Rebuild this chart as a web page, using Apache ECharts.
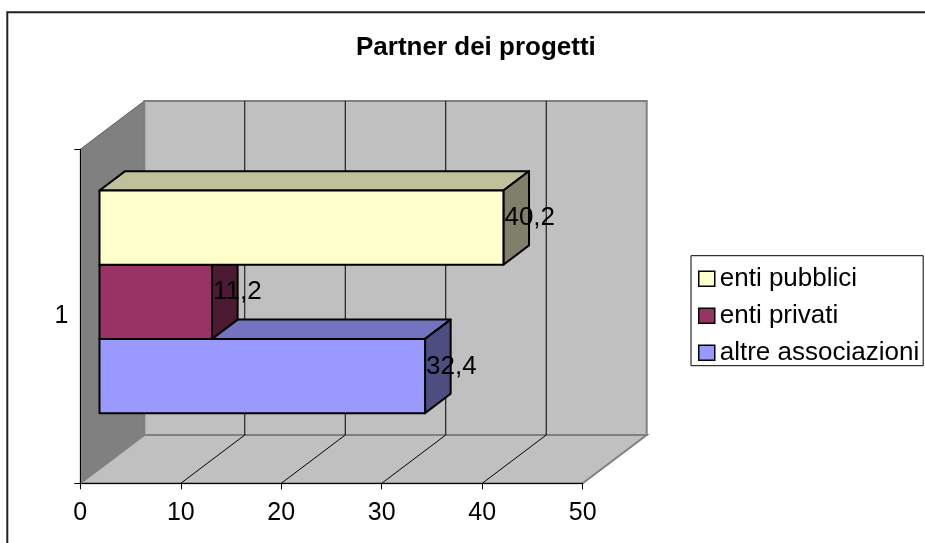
<!DOCTYPE html>
<html>
<head>
<meta charset="utf-8">
<style>
  html, body { margin: 0; padding: 0; background: #fff; }
  #chart { width: 925px; height: 543px; }
</style>
<script src="https://cdn.jsdelivr.net/npm/echarts@6/dist/echarts.min.js"></script>
</head>
<body>
<div id="chart"></div>
<script>
// Data
const categories = ['1'];
const seriesNames = ['enti pubblici', 'enti privati', 'altre associazioni'];
const seriesValues = [40.2, 11.2, 32.4];
const xTicks = [0, 10, 20, 30, 40, 50];

// Styles
const FONT = '"Liberation Sans", Arial, sans-serif';
const frontColors = ['#FFFFCC', '#993366', '#9999FF'];
const topColors   = ['#C0C09A', '#73264D', '#7373C0'];
const sideColors  = ['#80806A', '#4D1A33', '#4D4D80'];
const DEPTH = [64, -48.3];        // projection of the full depth of the box
const BAR_FRONT = 0.3, BAR_BACK = 0.7; // bar slab inside the depth
const GAP = 0.75;                 // gap on each side of the bar group, in bar heights

function fmt(v) { return String(v).replace('.', ','); }

function renderWalls(params, api) {
  const band = api.size([0, 1])[1];
  const c = api.coord([0, 0]);
  const yTop = c[1] - band / 2, yBot = c[1] + band / 2;
  const xs = xTicks.map(v => api.coord([v, 0])[0]);
  const x0 = xs[0], x1 = xs[xs.length - 1];
  const dx = DEPTH[0], dy = DEPTH[1];
  const children = [
    { type: 'polygon', shape: { points: [[x0, yTop], [x0 + dx, yTop + dy], [x0 + dx, yBot + dy], [x0, yBot]] },
      style: { fill: '#808080', stroke: '#606060', lineWidth: 1 } },
    { type: 'polygon', shape: { points: [[x0, yBot], [x0 + dx, yBot + dy], [x1 + dx, yBot + dy], [x1, yBot]] },
      style: { fill: '#C0C0C0', stroke: '#808080', lineWidth: 2 } },
    { type: 'rect', shape: { x: x0 + dx, y: yTop + dy, width: x1 - x0, height: yBot - yTop },
      style: { fill: '#C0C0C0', stroke: '#808080', lineWidth: 2 } }
  ];
  xs.slice(1, -1).forEach(x => {
    children.push({ type: 'line', shape: { x1: x + dx, y1: yTop + dy, x2: x + dx, y2: yBot + dy },
      style: { stroke: '#000', lineWidth: 1 } });
    children.push({ type: 'line', shape: { x1: x, y1: yBot, x2: x + dx, y2: yBot + dy },
      style: { stroke: '#000', lineWidth: 1 } });
  });
  return { type: 'group', children };
}

function makeBarRenderer(slot) {
  return function (params, api) {
    const value = api.value(0);
    const band = api.size([0, 1])[1];
    const p0 = api.coord([0, api.value(1)]);
    const p1 = api.coord([value, api.value(1)]);
    const h = band / (seriesNames.length + 2 * GAP);
    const top = p0[1] - band / 2 + GAP * h + slot * h;
    const fx = DEPTH[0] * BAR_FRONT, fy = DEPTH[1] * BAR_FRONT;
    const bx = DEPTH[0] * BAR_BACK, by = DEPTH[1] * BAR_BACK;
    const xa = p0[0], xb = p1[0];
    const edge = { stroke: '#000', lineWidth: 2, lineJoin: 'round' };
    return {
      type: 'group',
      children: [
        { type: 'polygon', shape: { points: [[xa + fx, top + fy], [xa + bx, top + by], [xb + bx, top + by], [xb + fx, top + fy]] },
          style: Object.assign({ fill: topColors[slot] }, edge) },
        { type: 'polygon', shape: { points: [[xb + fx, top + fy], [xb + bx, top + by], [xb + bx, top + h + by], [xb + fx, top + h + fy]] },
          style: Object.assign({ fill: sideColors[slot] }, edge) },
        { type: 'rect', shape: { x: xa + fx, y: top + fy, width: xb - xa, height: h },
          style: Object.assign({ fill: frontColors[slot] }, edge) },
        { type: 'text', x: xb + fx + 1, y: top + h / 2 + DEPTH[1] * 0.5,
          style: { text: fmt(value), fill: '#000', font: '26px ' + FONT, align: 'left', verticalAlign: 'middle' } }
      ]
    };
  };
}

// Draw back-to-front: lowest bar first so the bars above cover its top face.
const barSeries = [];
for (let i = seriesNames.length - 1; i >= 0; i--) {
  barSeries.push({
    type: 'custom',
    name: seriesNames[i],
    renderItem: makeBarRenderer(i),
    itemStyle: { color: frontColors[i] },
    encode: { x: 0, y: 1 },
    data: [[seriesValues[i], 0]],
    z: 3
  });
}

const chart = echarts.init(document.getElementById('chart'), null, { renderer: 'canvas' });
chart.setOption({
  backgroundColor: '#fff',
  animation: false,
  title: {
    text: 'Partner dei progetti',
    left: 356, top: 33, padding: 0,
    textStyle: { fontFamily: FONT, fontSize: 26, fontWeight: 'bold', color: '#000', lineHeight: 30 }
  },
  legend: {
    orient: 'vertical',
    left: 691, top: 255.7,
    padding: [10, 4, 0, 7],
    itemGap: 11,
    itemWidth: 16, itemHeight: 15,
    borderColor: '#000', borderWidth: 1,
    icon: 'rect',
    itemStyle: { borderColor: '#000', borderWidth: 1.5 },
    textStyle: { fontFamily: FONT, fontSize: 26, color: '#000', lineHeight: 26 },
    data: seriesNames,
    selectedMode: false
  },
  grid: { left: 80.3, right: 342.3, top: 149.3, bottom: 59.7, containLabel: false },
  xAxis: {
    type: 'value', min: 0, max: 50, interval: 10, z: 10,
    axisLine: { show: true, lineStyle: { color: '#000', width: 1 } },
    axisTick: { show: true, length: 6, lineStyle: { color: '#000' } },
    axisLabel: { fontFamily: FONT, fontSize: 25, color: '#000', margin: 17 },
    splitLine: { show: false }
  },
  yAxis: {
    type: 'category', data: categories, z: 10,
    axisLine: { show: true, lineStyle: { color: '#000', width: 1 } },
    axisTick: { show: true, length: 6, lineStyle: { color: '#000' } },
    axisLabel: { fontFamily: FONT, fontSize: 25, color: '#000', margin: 12 },
    splitLine: { show: false }
  },
  graphic: [{
    type: 'rect', z: -1, silent: true,
    shape: { x: 7.3, y: 12.3, width: 1000, height: 1000 },
    style: { fill: 'none', stroke: '#222', lineWidth: 2 }
  }],
  series: [{
    type: 'custom', name: 'walls', silent: true,
    renderItem: renderWalls,
    encode: { x: 0, y: 1 },
    data: [[0, 0]],
    z: 1
  }].concat(barSeries)
});
</script>
</body>
</html>
